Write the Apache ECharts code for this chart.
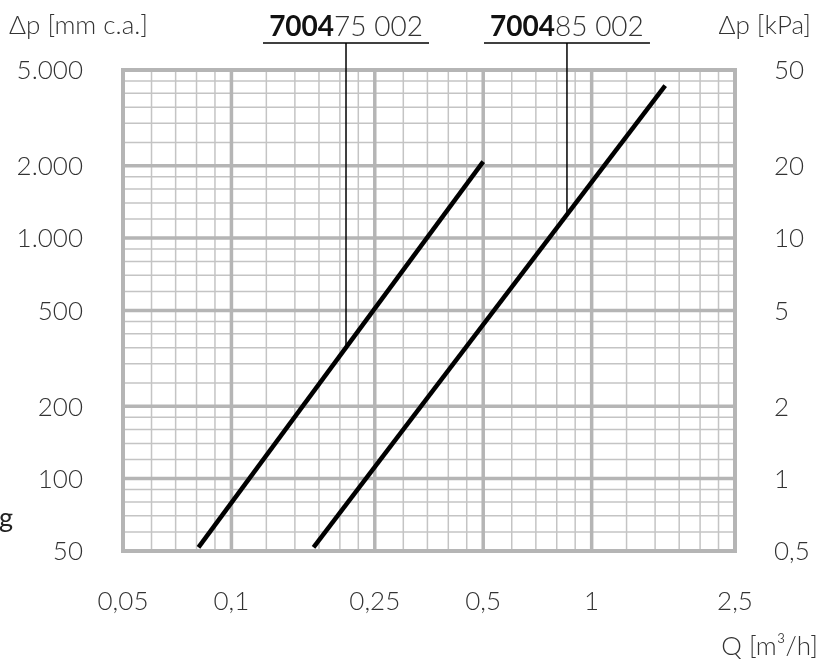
<!DOCTYPE html>
<html><head><meta charset="utf-8">
<script src="https://cdn.jsdelivr.net/npm/echarts@6/dist/echarts.min.js"></script>
<style>html,body{margin:0;padding:0;background:#fff}#c{width:819px;height:661px}</style>
</head><body><div id="c"></div>
<script>
// ---- data ----
const Q_MIN = 0.05, Q_MAX = 2.5, DP_MIN = 50, DP_MAX = 5000, KPA_MIN = 0.5, KPA_MAX = 50;
const xMajor = [0.1, 0.25, 0.5, 1];
const xMinor = [0.06, 0.07, 0.08, 0.09, 0.125, 0.15, 0.175, 0.2, 0.225, 0.3, 0.35, 0.4, 0.45, 0.6, 0.7, 0.8, 0.9, 1.25, 1.5, 1.75, 2, 2.25];
const yMajor = [100, 200, 500, 1000, 2000];
const yMinor = [60, 70, 80, 90, 120, 140, 160, 180, 250, 300, 350, 400, 450, 600, 700, 800, 900, 1200, 1400, 1600, 1800, 2500, 3000, 3500, 4000, 4500];
const xTicks = [0.05, 0.1, 0.25, 0.5, 1, 2.5];
const xTickLabels = ['0,05', '0,1', '0,25', '0,5', '1', '2,5'];
const yLeftTicks = [50, 100, 200, 500, 1000, 2000, 5000];
const yLeftLabels = ['50', '100', '200', '500', '1.000', '2.000', '5.000'];
const yRightTicks = [0.5, 1, 2, 5, 10, 20, 50];
const yRightLabels = ['0,5', '1', '2', '5', '10', '20', '50'];
const seriesBold = ['7004', '7004'];
const seriesRest = ['75 002', '85 002'];
const q700475 = [0.081, 0.5];
const dp700475 = [51.8, 2080];
const q700485 = [0.169, 1.6];
const dp700485 = [51.8, 4305];
const leaderQ = [0.208, 0.854];
const leaderDp = [351, 1250];

// ---- chart ----
const FONT = 'Lato, "Open Sans", sans-serif';
const TXT = '#333';
const GRID_C = '#b5b5b5';
const FS = 26;
const chart = echarts.init(document.getElementById('c'), null, {renderer: 'canvas'});

function vLines(vals, w, color) {
  return {
    type: 'custom', xAxisIndex: 0, yAxisIndex: 0, silent: true, z: 1, clip: false,
    data: vals.map(v => [v, DP_MIN]),
    renderItem: (p, api) => {
      const a = api.coord([api.value(0), DP_MIN]), b = api.coord([api.value(0), DP_MAX]);
      return {type: 'line', shape: {x1: a[0], y1: a[1], x2: b[0], y2: b[1]}, style: {stroke: color, lineWidth: w}};
    }
  };
}
function hLines(vals, w, color) {
  return {
    type: 'custom', xAxisIndex: 0, yAxisIndex: 0, silent: true, z: 1, clip: false,
    data: vals.map(v => [Q_MIN, v]),
    renderItem: (p, api) => {
      const a = api.coord([Q_MIN, api.value(1)]), b = api.coord([Q_MAX, api.value(1)]);
      return {type: 'line', shape: {x1: a[0], y1: a[1], x2: b[0], y2: b[1]}, style: {stroke: color, lineWidth: w}};
    }
  };
}
function textSeries(data, yAxisIndex, fn) {
  return {type: 'custom', xAxisIndex: 0, yAxisIndex: yAxisIndex, silent: true, clip: false, z: 3, data: data, renderItem: fn};
}

const option = {
  animation: false,
  backgroundColor: '#fff',
  grid: {left: 123, right: 84, top: 70, bottom: 110, show: true, borderColor: GRID_C, borderWidth: 4, backgroundColor: 'transparent', z: 2},
  xAxis: {type: 'log', logBase: 10, min: Q_MIN, max: Q_MAX, show: false},
  yAxis: [
    {type: 'log', logBase: 10, min: DP_MIN, max: DP_MAX, show: false},
    {type: 'log', logBase: 10, min: KPA_MIN, max: KPA_MAX, show: false}
  ],
  series: [
    vLines(xMinor, 1.5, '#c4c4c4'),
    hLines(yMinor, 1.5, '#c4c4c4'),
    vLines(xMajor, 3.5, GRID_C),
    hLines(yMajor, 3.5, GRID_C),
    {type: 'line', name: '700475 002', data: q700475.map((q, i) => [q, dp700475[i]]), showSymbol: false, symbol: 'none', lineStyle: {color: '#000', width: 4.5}, z: 5, silent: true},
    {type: 'line', name: '700485 002', data: q700485.map((q, i) => [q, dp700485[i]]), showSymbol: false, symbol: 'none', lineStyle: {color: '#000', width: 4.5}, z: 5, silent: true},
    // leaders and series labels
    textSeries(leaderQ.map((q, i) => [q, leaderDp[i], i]), 0, (p, api) => {
      const i = api.value(2);
      const a = api.coord([api.value(0), api.value(1)]);
      const top = api.coord([api.value(0), DP_MAX])[1] - 27;
      return {type: 'group', children: [
        {type: 'line', shape: {x1: a[0], y1: a[1], x2: a[0], y2: top}, style: {stroke: '#000', lineWidth: 1.5}},
        {type: 'line', shape: {x1: a[0] - 83, y1: top, x2: a[0] + 83, y2: top}, style: {stroke: '#000', lineWidth: 1.5}},
        {type: 'text', x: a[0], y: top - 16, style: {
          text: '{b|' + seriesBold[i] + '}{n|' + seriesRest[i] + '}', align: 'center', verticalAlign: 'middle',
          rich: {b: {fontFamily: FONT, fontWeight: 'bold', fontSize: 28, fill: '#111'}, n: {fontFamily: FONT, fontWeight: 300, fontSize: 28, fill: TXT}}
        }}
      ]};
    }),
    // x tick labels
    textSeries(xTicks.map((v, i) => [v, DP_MIN, i]), 0, (p, api) => {
      const c = api.coord([api.value(0), DP_MIN]);
      return {type: 'text', x: c[0], y: c[1] + 51, style: {text: xTickLabels[api.value(2)], align: 'center', verticalAlign: 'middle', font: '300 ' + FS + 'px ' + FONT, fill: TXT}};
    }),
    // left tick labels
    textSeries(yLeftTicks.map((v, i) => [Q_MIN, v, i]), 0, (p, api) => {
      const c = api.coord([Q_MIN, api.value(1)]);
      return {type: 'text', x: c[0] - 40, y: c[1] + 1, style: {text: yLeftLabels[api.value(2)], align: 'right', verticalAlign: 'middle', font: '300 ' + FS + 'px ' + FONT, fill: TXT}};
    }),
    // right tick labels
    textSeries(yRightTicks.map((v, i) => [Q_MAX, v, i]), 1, (p, api) => {
      const c = api.coord([Q_MAX, api.value(1)]);
      return {type: 'text', x: c[0] + 39, y: c[1] + 1, style: {text: yRightLabels[api.value(2)], align: 'left', verticalAlign: 'middle', font: '300 ' + FS + 'px ' + FONT, fill: TXT}};
    })
  ],
  graphic: [
    {type: 'text', left: 9, top: 13, style: {text: 'Δp [mm c.a.]', font: '300 ' + FS + 'px ' + FONT, fill: TXT}},
    {type: 'text', right: 8, top: 13, style: {text: 'Δp [kPa]', font: '300 ' + FS + 'px ' + FONT, fill: TXT}},
    {type: 'text', right: 1, top: 634, style: {text: 'Q [m³/h]', font: '300 ' + FS + 'px ' + FONT, fill: TXT}},
    {type: 'text', left: -1, top: 505, style: {text: 'g', font: '27px ' + FONT, fill: '#222'}}
  ]
};
chart.setOption(option);
</script>
</body></html>
